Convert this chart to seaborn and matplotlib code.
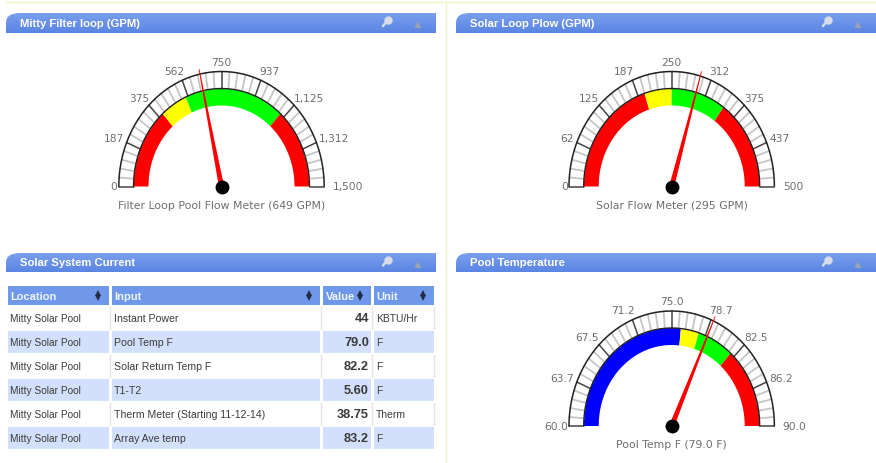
import numpy as np
import pandas as pd
import seaborn as sns
import matplotlib
matplotlib.use('Agg')
import matplotlib.pyplot as plt
from matplotlib.patches import PathPatch, Rectangle
from matplotlib.path import Path

# panel titles
panel_titles = ['Mitty Filter loop (GPM)', 'Solar Loop Plow (GPM)', 'Solar System Current', 'Pool Temperature']

# gauge 1
flow_max = 1500
flow_labels = ['0', '187', '375', '562', '750', '937', '1,125', '1,312', '1,500']
flow_limits = [400, 550, 1100, 1500]
flow_colors = ['#ff0000', '#ffff00', '#00ff00', '#ff0000']
flow_value = 649
flow_caption = 'Filter Loop Pool Flow Meter (649 GPM)'

# gauge 2
solar_max = 500
solar_labels = ['0', '62', '125', '187', '250', '312', '375', '437', '500']
solar_limits = [200, 250, 350, 500]
solar_colors = ['#ff0000', '#ffff00', '#00ff00', '#ff0000']
solar_value = 295
solar_caption = 'Solar Flow Meter (295 GPM)'

# gauge 3
temp_min = 60
temp_max = 90
temp_labels = ['60.0', '63.7', '67.5', '71.2', '75.0', '78.7', '82.5', '86.2', '90.0']
temp_limits = [76, 78, 82, 90]
temp_colors = ['#0000ff', '#ffff00', '#00ff00', '#ff0000']
temp_value = 79.0
temp_caption = 'Pool Temp F (79.0 F)'

# table
table_columns = ['Location', 'Input', 'Value', 'Unit']
table_location = ['Mitty Solar Pool'] * 6
table_input = ['Instant Power', 'Pool Temp F', 'Solar Return Temp F', 'T1-T2',
               'Therm Meter (Starting 11-12-14)', 'Array Ave temp']
table_value = ['44', '79.0', '82.2', '5.60', '38.75', '83.2']
table_unit = ['KBTU/Hr', 'F', 'F', 'F', 'Therm', 'F']

TEXT_GAUGE = '#6e6e6e'
sns.set_style('white')
plt.rcParams['font.family'] = ['Liberation Sans', 'DejaVu Sans']

fig = plt.figure(figsize=(8.76, 4.63), dpi=100)
ax = fig.add_axes([0, 0, 1, 1])
gradient = np.linspace(0, 1, 32).reshape(-1, 1)
header_cmap = matplotlib.colors.LinearSegmentedColormap.from_list('hdr', ['#7a9fee', '#5a85e2'])


def ell(cx, cy, frac, rx, ry):
    t = np.pi * (1 - np.asarray(frac, dtype=float))
    return cx + rx * np.cos(t), cy - ry * np.sin(t)


def draw_header(x0, x1, y0, y1, title):
    r = 14
    verts = [(x0, y1), (x0, y0 + r * 0.7), (x0, y0), (x0 + r, y0), (x1, y0), (x1, y1), (x0, y1)]
    codes = [Path.MOVETO, Path.LINETO, Path.CURVE3, Path.CURVE3, Path.LINETO, Path.LINETO, Path.CLOSEPOLY]
    patch = PathPatch(Path(verts, codes), fc='none', ec='none')
    ax.add_patch(patch)
    im = ax.imshow(gradient, extent=(x0, x1, y1, y0), cmap=header_cmap, aspect='auto', zorder=1)
    im.set_clip_path(patch)
    ax.text(x0 + 14, (y0 + y1) / 2 + 1, title, color='white', fontsize=8.1, fontweight='bold',
            ha='left', va='center', zorder=3)
    # wrench and collapse icons
    wx, wy = x1 - 50, (y0 + y1) / 2 - 1
    ax.plot([wx - 3, wx + 1], [wy + 4, wy - 1], color='#d8dde8', lw=1.8, zorder=3)
    ax.plot([wx + 2], [wy - 2], marker='o', ms=5, color='#d8dde8', zorder=3)
    ax.plot([x1 - 19.5], [wy + 2], marker='^', ms=3.6, color='#9aa2b4', zorder=3)


def draw_gauge(cx, cy, vmin, vmax, labels, limits, colors, value, caption):
    to_frac = lambda v: (np.asarray(v, dtype=float) - vmin) / (vmax - vmin)

    # coloured bands
    start = vmin
    for stop, col in zip(limits, colors):
        f = np.linspace(to_frac(start), to_frac(stop), 40)
        ox, oy = ell(cx, cy, f, 88, 98)
        ix, iy = ell(cx, cy, f[::-1], 73, 81)
        ax.fill(np.r_[ox, ix], np.r_[oy, iy], color=col, lw=0, zorder=2)
        start = stop

    # scale ticks
    n_major = len(labels) - 1
    fracs = np.arange(n_major * 5 + 1) / (n_major * 5)
    rows = []
    for i, f in enumerate(fracs):
        x0, y0 = ell(cx, cy, f, 88, 98)
        x1, y1 = ell(cx, cy, f, 102.7, 115)
        rows.append({'x': x0, 'y': y0, 'tick': i, 'major': i % 5 == 0})
        rows.append({'x': x1, 'y': y1, 'tick': i, 'major': i % 5 == 0})
    ticks = pd.DataFrame(rows)
    sns.lineplot(data=ticks[~ticks.major], x='x', y='y', units='tick', estimator=None, sort=False,
                 color='#c6c6c6', lw=1.3, ax=ax, legend=False, zorder=2)
    sns.lineplot(data=ticks[ticks.major], x='x', y='y', units='tick', estimator=None, sort=False,
                 color='#444444', lw=1.1, ax=ax, legend=False, zorder=2)

    # arcs
    f = np.linspace(0, 1, 181)
    for rx, ry, lw in [(102.7, 115, 1.1), (88, 98, 1.0)]:
        x, y = ell(cx, cy, f, rx, ry)
        sns.lineplot(x=x, y=y, sort=False, estimator=None, color='#222222', lw=lw, ax=ax, zorder=2.5)

    # scale labels
    for i, lab in enumerate(labels):
        frac = i / n_major
        c = abs(np.cos(np.pi * frac))
        lx, ly = ell(cx, cy, frac, 92 + 15 * c, 124)
        ha = 'right' if frac < 0.5 else ('center' if frac == 0.5 else 'left')
        if i in (0, n_major):
            ly = cy + 0.5
            lx = cx + (-104 if i == 0 else 111)
        ax.text(lx, ly, lab, family='DejaVu Sans', fontsize=7.7, color=TEXT_GAUGE, ha=ha, va='center', zorder=4)

    # needle
    frac = to_frac(value)
    tx, ty = ell(cx, cy, frac, 107, 120)
    dx, dy = tx - cx, ty - cy
    n = np.hypot(dx, dy)
    px, py = -dy / n, dx / n
    ax.fill([cx + px * 2.6, tx + px * 0.4, tx - px * 0.4, cx - px * 2.6],
            [cy + py * 2.6, ty + py * 0.4, ty - py * 0.4, cy - py * 2.6],
            color='#ff0000', lw=0, zorder=5)
    ax.plot([cx], [cy], marker='o', ms=10, color='black', mew=0, zorder=6)

    ax.text(cx, cy + 19.5, caption, family='DejaVu Sans', fontsize=7.8, color=TEXT_GAUGE,
            ha='center', va='center', zorder=4)


def draw_table():
    col_x = [(8, 109), (112, 320), (323, 371), (374, 434)]
    for (x0, x1), name in zip(col_x, table_columns):
        ax.add_patch(Rectangle((x0, 286), x1 - x0, 19, fc='#6f98ea', ec='none', zorder=2))
        ax.text(x0 + 2.5, 296.5, name, color='#eef3ff', fontsize=8.0, fontweight='bold',
                ha='left', va='center', zorder=3)
        ax.plot([x1 - 11], [293], marker='^', ms=4.6, color='#222d44', mew=0, zorder=3)
        ax.plot([x1 - 11], [298], marker='v', ms=4.6, color='#222d44', mew=0, zorder=3)
    for r, (loc, inp, val, unit) in enumerate(zip(table_location, table_input, table_value, table_unit)):
        y0 = 307 + 24 * r
        if r % 2 == 1:
            for x0, x1 in col_x:
                ax.add_patch(Rectangle((x0, y0), x1 - x0, 22, fc='#d3e0fb', ec='none', zorder=1.5))
        else:
            for x in [109.5, 320.5, 371.5, 433.5]:
                ax.plot([x, x], [y0, y0 + 22], color='#e4e4e4', lw=1, zorder=1.5)
        yc = y0 + 12
        ax.text(10, yc, loc, color='#3c3c3c', fontsize=7.3, ha='left', va='center', zorder=3)
        ax.text(114, yc, inp, color='#3c3c3c', fontsize=7.6, ha='left', va='center', zorder=3)
        ax.text(369, yc, val, color='#3a3a3a', fontsize=9.2, fontweight='bold', ha='right', va='center', zorder=3)
        ax.text(376, yc, unit, color='#3c3c3c', fontsize=7.5, ha='left', va='center', zorder=3)


# page lines
ax.plot([6, 876], [1.5, 1.5], color='#eef4c6', lw=1, zorder=1)
ax.plot([446, 446], [1, 463], color='#eef4c6', lw=1, zorder=1)

draw_header(6, 436, 13, 33, panel_titles[0])
draw_header(456, 876, 13, 33, panel_titles[1])
draw_header(6, 436, 253, 272, panel_titles[2])
draw_header(456, 876, 253, 272, panel_titles[3])

draw_gauge(221.5, 186.5, 0, flow_max, flow_labels, flow_limits, flow_colors, flow_value, flow_caption)
draw_gauge(671.7, 186.5, 0, solar_max, solar_labels, solar_limits, solar_colors, solar_value, solar_caption)
draw_gauge(671.7, 426, temp_min, temp_max, temp_labels, temp_limits, temp_colors, temp_value, temp_caption)
draw_table()

ax.set_xlim(0, 876)
ax.set_ylim(463, 0)
ax.axis('off')
fig.savefig('out.png', dpi=100, facecolor='white')
